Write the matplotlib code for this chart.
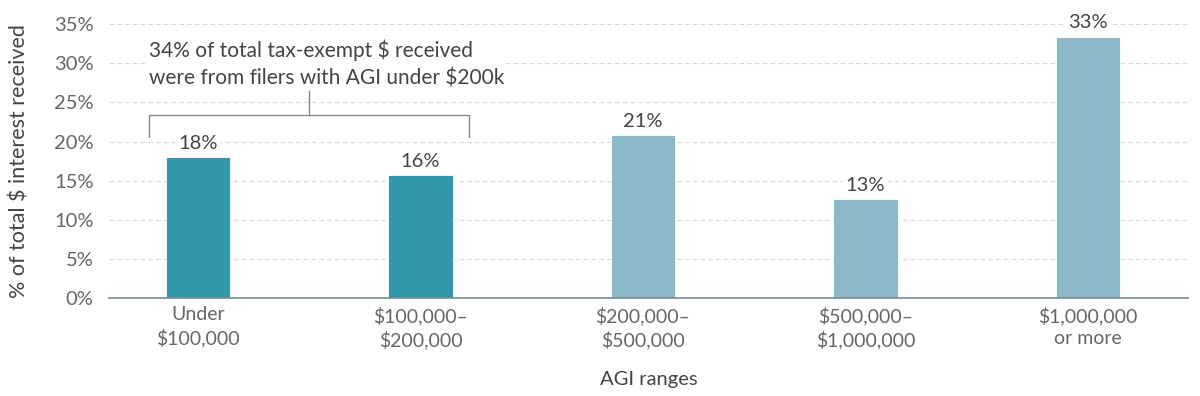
import matplotlib
matplotlib.use("Agg")
import matplotlib.pyplot as plt

categories = ["Under\n$100,000", "$100,000–\n$200,000", "$200,000–\n$500,000",
              "$500,000–\n$1,000,000", "$1,000,000\nor more"]
values = [18.0, 15.7, 20.8, 12.6, 33.4]
labels = ["18%", "16%", "21%", "13%", "33%"]
highlight = [True, True, False, False, False]
yticks = [0, 5, 10, 15, 20, 25, 30, 35]
annotation = "34% of total tax-exempt $ received\nwere from filers with AGI under $200k"

dark = "#3398ac"
light = "#8cb8c7"
txt = "#666666"

plt.rcParams['font.family'] = ['Lato', 'DejaVu Sans']

fig = plt.figure(figsize=(12, 3.96), dpi=100)
ax = fig.add_axes([0.0908, 0.2475, 0.8992, 0.6915])

x = list(range(len(categories)))
colors = [dark if h else light for h in highlight]
bars = ax.bar(x, values, width=0.29, color=colors, edgecolor="white", linewidth=0.6, zorder=3)

ax.set_ylim(0, 35)
ax.set_xlim(-0.4, 4.45)
ax.set_yticks(yticks)
ax.set_yticklabels([f"{t}%" for t in yticks], fontsize=14.5, color=txt)
ax.set_xticks(x)
ax.set_xticklabels(categories, fontsize=14, color=txt, linespacing=1.35)
ax.tick_params(axis='y', length=0, pad=11)
ax.tick_params(axis='x', length=0, pad=6)

ax.grid(axis='y', color="#d8d8d8", linestyle=(0, (4, 3)), linewidth=0.8, zorder=0)
ax.set_axisbelow(True)
for s in ['top', 'right', 'left']:
    ax.spines[s].set_visible(False)
ax.spines['bottom'].set_color("#7a8a90")
ax.spines['bottom'].set_linewidth(1.2)
ax.spines['bottom'].set_zorder(4)

for xi, v, lab in zip(x, values, labels):
    ax.text(xi, v + 0.7, lab, ha='center', va='bottom', fontsize=14.5, color="#444444",
            bbox=dict(facecolor='white', edgecolor='none', pad=2), zorder=4)

ax.set_xlabel("AGI ranges", fontsize=14.5, color="#444444", labelpad=16)
ax.set_ylabel("% of total $ interest received", fontsize=15.5, color="#444444", labelpad=18)

# bracket annotation
bl, br = -0.22, 1.22
ytop, ybot = 23.4, 20.6
xm = 0.5
ax.plot([bl, bl, br, br], [ybot, ytop, ytop, ybot], color="#888888", linewidth=1.0, zorder=5,
        solid_joinstyle='miter')
ax.plot([xm, xm], [ytop, 26.4], color="#888888", linewidth=1.0, zorder=5)
ax.text(bl, 26.8, annotation, ha='left', va='bottom', fontsize=15, color="#444444",
        linespacing=1.45, bbox=dict(facecolor='white', edgecolor='none', pad=1), zorder=4)

fig.savefig("out.png", dpi=100)
